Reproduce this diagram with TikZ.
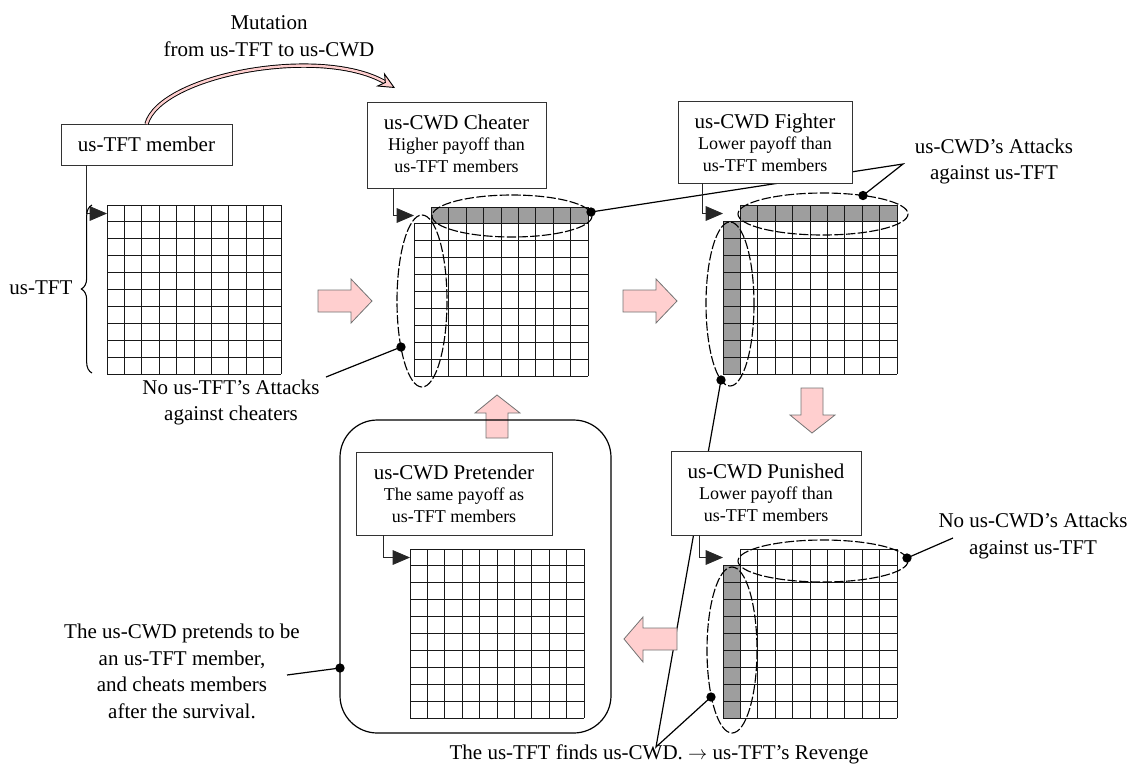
\documentclass[tikz,border=0pt]{standalone}
\usepackage{fontspec}
\setmainfont{Liberation Serif}
\usetikzlibrary{arrows.meta,decorations.pathreplacing,calc}
\definecolor{mypink}{RGB}{255,207,207}
\newcommand{\pxx}{0.75pt}
\newcommand{\gridat}[2]{%
  \foreach \i in {0,...,10}{%
    \draw[gridline] ({#1+\i*17.4},#2) -- ({#1+\i*17.4},{#2+169});
    \draw[gridline] (#1,{#2+\i*16.9}) -- ({#1+174},{#2+\i*16.9});
  }}
\newcommand{\shaderow}[2]{\fill[cellfill] ({#1+17.4},#2) rectangle ({#1+174},{#2+16.9});}
\newcommand{\shadecol}[2]{\fill[cellfill] (#1,{#2+16.9}) rectangle ({#1+17.4},{#2+169});}
\newcommand{\blankcell}[2]{\fill[white] ({#1-1},{#2-1}) rectangle ({#1+16.8},{#2+16.4});}
\newcommand{\infobox}[8]{%
  \node[box, minimum width={#4*\pxx}, minimum height={#5*\pxx}] (#1) at (#2,{#3+#5/2}) {};
  \node[ttl, anchor=base] (#1-t) at (#2,{#3+27}) {#6};
  \node[subt, anchor=base] (#1-a) at (#2,{#3+48}) {#7};
  \node[subt, anchor=base] (#1-b) at (#2,{#3+70}) {#8};
}
\begin{document}
\begin{tikzpicture}[x=0.75pt,y=-0.75pt,
  box/.style={draw=black!80, line width=0.6pt, fill=white, inner sep=0pt, outer sep=0pt},
  ttl/.style={font=\fontsize{15.75}{20}\selectfont, inner sep=0pt},
  subt/.style={font=\fontsize{13.5}{16}\selectfont, inner sep=0pt},
  lbl/.style={font=\fontsize{15.75}{20}\selectfont, align=center, inner sep=0pt},
  gridline/.style={black!90, line width=0.75pt},
  cellfill/.style={fill=black!38},
  ell/.style={draw, dash pattern=on 7pt off 1.8pt, line width=0.85pt},
  conn/.style={draw=black!85, line width=0.6pt, -{Triangle[length=13pt,width=11pt]}},
  call/.style={draw, line width=0.9pt},
  dot/.style={circle, fill, inner sep=0pt, minimum size=7pt},
  parrow/.style={fill=mypink, draw=black!55, line width=0.6pt},
  mut/.style={line width=0.7pt, double=mypink, double distance=1.8pt,
    -{Stealth[length=13pt,width=12pt,fill=mypink]}},
]
\useasboundingbox (0,0) rectangle (1133,776);

% dot positions and callout ends
\coordinate (p2v) at (401,347);
\coordinate (p2h) at (591,212);
\coordinate (p3h) at (863,195.5);
\coordinate (p3v) at (721,380);
\coordinate (p5h) at (907,558);
\coordinate (p5v) at (711,697);
\coordinate (pcont) at (340,668);
\coordinate (q1) at (326,377);
\coordinate (q2) at (903,164);
\coordinate (q3) at (656,747);
\coordinate (q4) at (953,538);
\coordinate (q5) at (287,675);

% callout lines (behind)
\draw[call] (p2v) -- (q1);
\draw[call] (p2h) -- (q2) -- (p3h);
\draw[call] (p3v) -- (q3) -- (p5v);
\draw[call] (p5h) -- (q4);
\draw[call] (pcont) -- (q5);

% pink block arrows
\draw[parrow] (318,290) -- (351,290) -- (351,279) -- (372,301) -- (351,323) -- (351,312) -- (318,312) -- cycle;
\draw[parrow] (623,290) -- (656,290) -- (656,279) -- (677,301) -- (656,323) -- (656,312) -- (623,312) -- cycle;
\draw[parrow] (801,388) -- (823,388) -- (823,415) -- (835,415) -- (812,433) -- (790,415) -- (801,415) -- cycle;
\draw[parrow] (677,628) -- (643,628) -- (643,617) -- (624,639) -- (643,662) -- (643,650) -- (677,650) -- cycle;
\draw[parrow] (486,438) -- (486,413) -- (475,413) -- (497,395) -- (520,413) -- (508,413) -- (508,438) -- cycle;

% container
\node[draw, line width=0.9pt, rounded corners=28pt, minimum width={271*\pxx}, minimum height={313*\pxx}, inner sep=0pt, outer sep=0pt] (cont) at (475.5,576.5) {};

% grids
\shaderow{414}{207}
\shaderow{723}{205}
\shadecol{723}{205}
\shadecol{723}{549}
\gridat{107}{205}
\gridat{414}{207}
\gridat{723}{205}
\gridat{410}{549}
\gridat{723}{549}
\blankcell{414}{207}
\blankcell{723}{205}
\blankcell{723}{549}

% ellipses
\draw[ell] (512,216) ellipse [x radius=80, y radius=21];
\draw[ell] (422,301) ellipse [x radius=25, y radius=86];
\draw[ell] (823,214) ellipse [x radius=85, y radius=21];
\draw[ell] (730,304) ellipse [x radius=24, y radius=82];
\draw[ell] (823,561) ellipse [x radius=85, y radius=21];
\draw[ell] (732,650) ellipse [x radius=25, y radius=83];

% boxes
\node[box, font=\fontsize{15.75}{20}\selectfont, minimum width={171*\pxx}, minimum height={41*\pxx}] (member) at (146.5,144.5) {us-TFT member};
\infobox{cheat}{456.5}{102}{179}{86}{us-CWD Cheater}{Higher payoff than}{us-TFT members}
\infobox{fight}{765}{101}{174}{82}{us-CWD Fighter}{Lower payoff than}{us-TFT members}
\infobox{pret}{454}{452}{196}{83}{us-CWD Pretender}{The same payoff as}{us-TFT members}
\infobox{pun}{766}{451}{190}{84}{us-CWD Punished}{Lower payoff than}{us-TFT members}

% grid entry points
\coordinate (g1in) at (107,213.5);
\coordinate (g2in) at (414,215.5);
\coordinate (g3in) at (723,213.5);
\coordinate (g4in) at (410,557.5);
\coordinate (g5in) at (723,557.5);

\draw[conn] (member.south west) ++(25,0) |- (g1in);
\draw[conn] (cheat.south west) ++(26,0) |- (g2in);
\draw[conn] (fight.south west) ++(24,0) |- (g3in);
\draw[conn] (pret.south west) ++(27,0) |- (g4in);
\draw[conn] (pun.south west) ++(28,0) |- (g5in);

% mutation arrow
\coordinate (mutend) at (395,88);
\draw[mut] (member.north) .. controls (160,75) and (320,45) .. (mutend);

% brace
\draw[line width=0.8pt, decorate, decoration={brace, amplitude=8pt}] (92,373) -- (92,205);

% dots
\node[dot] (d1) at (p2v) {};
\node[dot] (d2) at (p2h) {};
\node[dot] (d3) at (p3h) {};
\node[dot] (d4) at (p3v) {};
\node[dot] (d5) at (p5h) {};
\node[dot] (d6) at (p5v) {};
\node[dot] (d7) at (pcont) {};

% labels
\node[lbl] (mutlbl) at (269,36.5) {Mutation\\from us-TFT to us-CWD};
\node[lbl] (attlbl) at (994,161.5) {us-CWD’s Attacks\\against us-TFT};
\node[lbl] (nolbl) at (231,402.5) {No us-TFT’s Attacks\\against cheaters};
\node[lbl] (no2lbl) at (1033,536) {No us-CWD’s Attacks\\against us-TFT};
\node[lbl] (pretlbl) at (182,671.5) {The us-CWD pretends to be\\an us-TFT member,\\and cheats members\\after the survival.};
\node[lbl] (tftlbl) at (41,288) {us-TFT};
\node[lbl] (revlbl) at (659,754) {The us-TFT finds us-CWD. $\rightarrow$ us-TFT’s Revenge};
\end{tikzpicture}
\end{document}
